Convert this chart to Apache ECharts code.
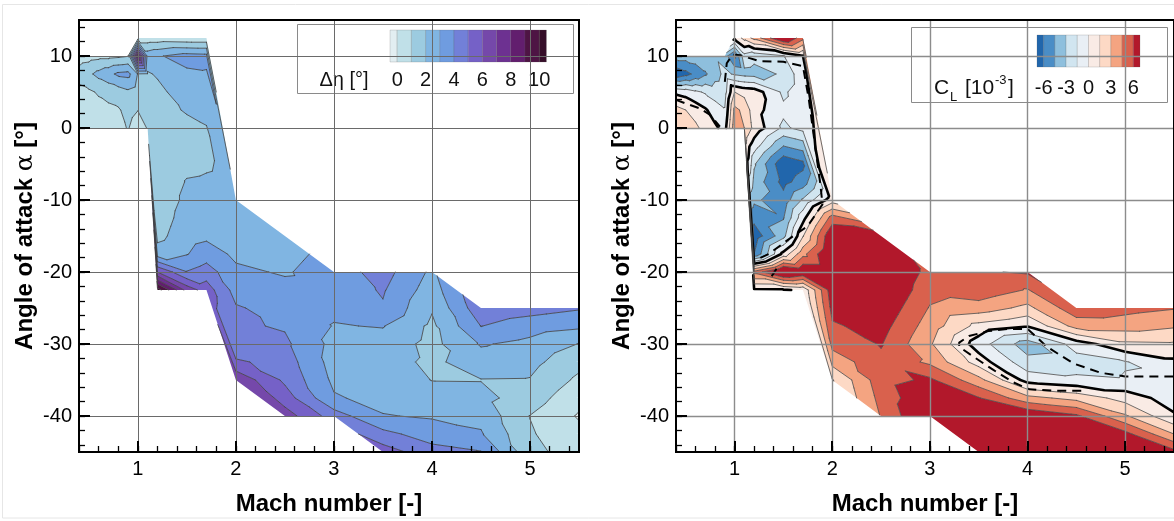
<!DOCTYPE html>
<html>
<head>
<meta charset="utf-8">
<script src="https://cdn.jsdelivr.net/npm/echarts@6/dist/echarts.min.js"></script>
<style>
  html, body { margin: 0; padding: 0; background: #fff; }
  #chart { width: 1174px; height: 521px; }
</style>
</head>
<body>
<div id="chart"></div>
<script>
// ---- Test matrix: one column of angles of attack per Mach number (2.5° steps from alphaLow) ----
const machCols  = [0.4, 0.5, 0.6, 0.7, 0.8, 0.9, 1.0, 1.1, 1.2, 1.5, 1.7, 2.0, 2.5, 3.0, 3.5, 4.0, 4.5, 5.0, 5.5];
const alphaLow  = [0, 0, 0, 0, 0, 0, 0, 0, -22.5, -22.5, -22.5, -35, -40, -40, -45, -50, -50, -50, -50];
const alphaStep = 2.5;

// Δη [°] per Mach column, from lowest to highest angle of attack
const etaCols = [
  [0.3, 0.4, 0.7, 1.4, 0.5],
  [0.4, 0.5, 0.85, 1.8, 0.6],
  [0.5, 0.7, 1.1, 2.3, 0.7],
  [0.6, 0.8, 1.3, 2.7, 0.7],
  [0.75, 0.9, 1.5, 3.2, 0.8],
  [1.05, 1.3, 1.8, 3.3, 0.95],
  [0.6, 1.02, 1.5, 1.95, 8.6, 0.4],
  [1.05, 1.4, 1.6, 1.9, 2.6, 0.4],
  [10.5, 6.0, 2.5, 1.7, 1.5, 1.4, 1.4, 1.4, 1.4, 1.5, 1.6, 1.75, 2.1, 2.9, 0.4],
  [6.6, 4.05, 2.95, 2.6, 2.4, 2.2, 2.05, 1.8, 1.6, 1.7, 2.1, 2.5, 2.8, 3.4, 0.3],
  [5.5, 4.5, 3.5, 2.8, 2.5, 2.3, 2.1, 1.9, 1.85, 1.95, 2.3, 2.6, 2.9, 3.3, 0.3],
  [6.8, 5.2, 4.05, 4.15, 4.1, 3.6, 3.2, 2.8, 2.6, 2.5, 2.4],
  [6.5, 5.5, 4.8, 4.5, 4.2, 3.9, 3.6, 3.3, 2.9, 2.7, 2.5],
  [4.5, 3.1, 2.8, 2.6, 2.7, 2.95, 3.2, 3.4, 3.5],
  [5.5, 4.3, 3.05, 2.7, 2.5, 2.4, 2.6, 3.05, 3.9, 4.1, 4.4],
  [6.0, 5.2, 4.4, 3.5, 2.9, 2.4, 1.98, 1.8, 1.7, 1.8, 2.1, 2.5, 2.8],
  [6.0, 5.1, 4.05, 3.1, 2.7, 2.3, 1.97, 2.5, 3.1, 4.02, 4.7],
  [2.1, 1.6, 1.3, 1.1, 0.98, 1.5, 1.95, 2.3, 2.7, 3.5, 4.4],
  [1.1, 0.8, 0.5, 0.3, -0.1, 0.3, 0.8, 1.3, 1.97, 3.2, 4.1]
];

// C_L [10^-3] per Mach column, same layout
const clCols = [
  [2.5, 2.0, -0.3, -7.2, -3.8],
  [2.2, 1.5, -0.6, -6.5, -3.8],
  [1.8, 0.9, -1.2, -5.6, -3.6],
  [1.0, 0.2, -1.7, -4.7, -3.4],
  [0.3, -0.8, -2.2, -3.6, -3.2],
  [-0.6, -1.4, -2.1, -2.6, -3.8],
  [4.0, 3.4, 1.5, -3.2, -6.3, 0.4],
  [3.0, 2.6, 1.0, -3.5, -2.0, 2.0],
  [-0.3, 5.0, -6.0, -7.0, -5.5, -4.2, -3.5, -2.8, -0.8, 1.0, 0.6, 0.8, -3.6, -2.5, 3.5],
  [-0.2, 8.5, 0.5, -3.5, -4.6, -5.4, -6.5, -7.2, -4.5, -1.8, -1.2, -1.8, -2.8, -1.6, 8.0],
  [0.3, 7.5, 4.0, 1.4, -0.5, -2.8, -5.3, -6.4, -3.8, -1.0, -0.6, -0.5, -0.4, -0.1, 5.0],
  [1.4, 3.5, 5.0, 5.8, 6.5, 7.0, 7.5, 8.0, 7.5, 5.2, 0.8],
  [4.6, 5.0, 5.4, 5.7, 6.1, 6.6, 7.2, 7.8, 8.0, 8.0, 7.0],
  [8.0, 7.5, 6.3, 4.2, 3.2, 3.8, 4.4, 5.0, 5.5],
  [8.0, 8.0, 7.5, 6.1, 3.5, 0.8, -0.8, 1.0, 3.8, 5.5, 5.8],
  [8.0, 8.0, 8.0, 8.0, 7.5, 3.5, -0.6, -2.5, -3.8, 0.1, 2.6, 4.4, 6.2],
  [8.0, 8.0, 8.0, 8.0, 6.3, 2.5, -1.2, -2.2, -0.8, 3.6, 5.5],
  [8.0, 8.0, 8.0, 6.5, 3.2, 0.9, -1.4, -1.6, 1.2, 3.7, 5.0],
  [8.0, 7.5, 6.5, 3.0, 0.2, -0.8, -1.3, -0.3, 1.3, 3.2, 4.6]
];

// Dashed reference contour in the C_L map (Mach, alpha)
const clDashed = [
  [[0.40, 3.9], [0.50, 3.4], [0.65, 2.7], [0.75, 1.8], [0.85, 0.2]],
  [[0.90, 6.4], [0.92, 9.0], [0.98, 10.2], [1.06, 10.1], [1.25, 9.3], [1.50, 9.2], [1.70, 8.6],
   [1.76, 4.0], [1.82, -2.0], [1.88, -8.0], [1.90, -10.6], [1.75, -13.6], [1.55, -15.5],
   [1.35, -17.5], [1.22, -18.3]],
  [[1.38, -20.6], [1.46, -18.9]],
  [[4.55, -36.5], [4.30, -36.5], [4.02, -36.3], [3.85, -35.3], [3.65, -33.6], [3.45, -31.8],
   [3.30, -30.4], [3.30, -29.8], [3.40, -28.9], [3.60, -28.2], [3.80, -27.9], [4.00, -27.9],
   [4.20, -30.4], [4.47, -32.7], [4.75, -34.0], [5.00, -34.5], [5.50, -34.5]]
];

// Contour levels and band colours
const etaLevels = [0, 1, 2, 3, 4, 5, 6, 7, 8, 9, 10];
const etaColors = ['#e2eef1', '#c0e0e8', '#9ccbe0', '#80b5e2', '#6f9ce0', '#7280d8',
                   '#7561c7', '#7548aa', '#6d3191', '#621e6e', '#4e1444', '#360e29'];
const etaLabels = [0, 2, 4, 6, 8, 10];
const clLevels  = [-6, -4.5, -3, -1.5, 0, 1.5, 3, 4.5, 6];
const clColors  = ['#2166ac', '#4a8dc6', '#8ebfdd', '#d1e5f0', '#e9eff5',
                   '#f9ebe5', '#fdd9c5', '#f4a481', '#d9614d', '#b2182b'];
const clLabels  = [-6, -3, 0, 3, 6];

// Axis ticks
const xMajorTicks = [1, 2, 3, 4, 5];
const yMajorTicks = [-40, -30, -20, -10, 0, 10];
const xMinorTicks = [];
for (let k = 2; k <= 27; k++) xMinorTicks.push(+(k * 0.2).toFixed(1));
const yMinorTicks = [];
for (let v = -44; v <= 14; v += 2) yMinorTicks.push(v);

const FONT = '"Liberation Sans", Arial, sans-serif';

// ---- Triangulate neighbouring Mach columns (zipper by angle of attack) ----
function buildTriangles(cols) {
  const colPts = cols.map((vals, ci) => vals.map((v, k) => ({ m: machCols[ci], a: alphaLow[ci] + k * alphaStep, v })));
  const tris = [];
  for (let c = 0; c < colPts.length - 1; c++) {
    const A = colPts[c], B = colPts[c + 1];
    let i = 0, j = 0;
    while (i < A.length - 1 || j < B.length - 1) {
      if (i < A.length - 1 && (j >= B.length - 1 || A[i + 1].a <= B[j + 1].a)) {
        tris.push([A[i], A[i + 1], B[j]]); i++;
      } else {
        tris.push([A[i], B[j], B[j + 1]]); j++;
      }
    }
  }
  return tris;
}

function clipPoly(poly, L, keepAbove) {
  const out = [];
  const n = poly.length;
  for (let k = 0; k < n; k++) {
    const a = poly[k], b = poly[(k + 1) % n];
    const ia = keepAbove ? a.v >= L : a.v < L;
    const ib = keepAbove ? b.v >= L : b.v < L;
    if (ia) out.push(a);
    if (ia !== ib) {
      const t = (L - a.v) / (b.v - a.v);
      out.push({ x: a.x + t * (b.x - a.x), y: a.y + t * (b.y - a.y), v: L });
    }
  }
  return out;
}
const fx = (n) => n.toFixed(2);

function contourRenderer(tris, levels, colors, lineFor) {
  return function (params, api) {
    const P = tris.map(t => t.map(p => { const c = api.coord([p.m, p.a]); return { x: c[0], y: c[1], v: p.v }; }));
    const nb = colors.length;
    const fills = new Array(nb).fill('');
    const lines = new Array(levels.length).fill('');
    for (const tri of P) {
      const vmin = Math.min(tri[0].v, tri[1].v, tri[2].v);
      const vmax = Math.max(tri[0].v, tri[1].v, tri[2].v);
      for (let b = 0; b < nb; b++) {
        const lo = b === 0 ? -Infinity : levels[b - 1];
        const hi = b === nb - 1 ? Infinity : levels[b];
        if (vmax < lo || vmin >= hi) continue;
        let poly = tri;
        if (lo > -Infinity) poly = clipPoly(poly, lo, true);
        if (hi < Infinity && poly.length) poly = clipPoly(poly, hi, false);
        if (poly.length >= 3) {
          fills[b] += 'M' + poly.map(p => fx(p.x) + ' ' + fx(p.y)).join('L') + 'Z';
        }
      }
      levels.forEach((L, li) => {
        const pts = [];
        for (let e = 0; e < 3; e++) {
          const a = tri[e], c = tri[(e + 1) % 3];
          if ((a.v >= L) !== (c.v >= L)) {
            const t = (L - a.v) / (c.v - a.v);
            pts.push([a.x + t * (c.x - a.x), a.y + t * (c.y - a.y)]);
          }
        }
        if (pts.length === 2) {
          lines[li] += 'M' + fx(pts[0][0]) + ' ' + fx(pts[0][1]) + 'L' + fx(pts[1][0]) + ' ' + fx(pts[1][1]);
        }
      });
    }
    const children = [];
    fills.forEach((d, b) => {
      if (d) children.push({ type: 'path', shape: { pathData: d }, style: { fill: colors[b], stroke: 'none' } });
    });
    lines.forEach((d, li) => {
      if (d) {
        const s = lineFor(levels[li]);
        children.push({ type: 'path', shape: { pathData: d }, style: { fill: 'none', stroke: s.color, lineWidth: s.width, lineJoin: 'round', lineCap: 'round' } });
      }
    });
    return { type: 'group', children };
  };
}

// ---- Axes ----
function xAxes(gi, splitColor, splitWidth) {
  return [
    {
      gridIndex: gi, type: 'value', min: 0.4, max: 5.5, position: 'bottom', z: 6,
      axisLine: { show: false, onZero: false },
      axisTick: { show: true, inside: true, length: 11, customValues: xMajorTicks, lineStyle: { color: '#000', width: 2 } },
      axisLabel: { customValues: xMajorTicks, fontSize: 20, fontFamily: FONT, color: '#000', margin: 7 },
      splitLine: { show: true, lineStyle: { color: splitColor, width: splitWidth } },
      name: 'Mach number [-]', nameLocation: 'middle', nameGap: 40,
      nameTextStyle: { fontSize: 24, fontWeight: 'bold', fontFamily: FONT, color: '#000' }
    },
    {
      gridIndex: gi, type: 'value', min: 0.4, max: 5.5, position: 'bottom', z: 6,
      axisLine: { show: false, onZero: false },
      axisTick: { show: true, inside: true, length: 6, customValues: xMinorTicks, lineStyle: { color: '#000', width: 1.3 } },
      axisLabel: { show: false }, splitLine: { show: false }
    }
  ];
}
function yAxes(gi, splitColor, splitWidth) {
  return [
    {
      gridIndex: gi, type: 'value', min: -45, max: 15, position: 'left', z: 6,
      axisLine: { show: false, onZero: false },
      axisTick: { show: true, inside: true, length: 11, customValues: yMajorTicks, lineStyle: { color: '#000', width: 2 } },
      axisLabel: { customValues: yMajorTicks, fontSize: 20, fontFamily: FONT, color: '#000', margin: 7 },
      splitLine: { show: true, lineStyle: { color: splitColor, width: splitWidth } },
      name: 'Angle of attack {a|α} [°]', nameLocation: 'middle', nameGap: 41,
      nameTextStyle: {
        fontSize: 24, fontWeight: 'bold', fontFamily: FONT, color: '#000',
        rich: { a: { fontSize: 25, fontWeight: 'normal', fontFamily: '"DejaVu Serif", serif', color: '#000' } }
      }
    },
    {
      gridIndex: gi, type: 'value', min: -45, max: 15, position: 'left', z: 6,
      axisLine: { show: false, onZero: false },
      axisTick: { show: true, inside: true, length: 6, customValues: yMinorTicks, lineStyle: { color: '#000', width: 1.3 } },
      axisLabel: { show: false }, splitLine: { show: false }
    }
  ];
}

// ---- Colour-bar legends ----
function colorBar(x0, top, h, half, unit, levels, colors, labels, labelY) {
  const els = [];
  const lv0 = levels[0];
  const step = levels[1] - levels[0];
  const posOf = (v) => x0 + half + (v - lv0) / step * unit;
  for (let b = 0; b < colors.length; b++) {
    const xa = b === 0 ? x0 : posOf(levels[b - 1]);
    const xb = b === colors.length - 1 ? posOf(levels[levels.length - 1]) + half : posOf(levels[b]);
    els.push({ type: 'rect', shape: { x: xa, y: top, width: xb - xa, height: h },
      style: { fill: colors[b], stroke: 'rgba(90,90,90,0.35)', lineWidth: 0.6 } });
  }
  labels.forEach(v => {
    els.push({ type: 'text', x: posOf(v), y: labelY,
      style: { text: String(v), fontSize: 20, fontFamily: FONT, fill: '#111', align: 'center', verticalAlign: 'middle' } });
  });
  return els;
}

const etaTris = buildTriangles(etaCols);
const clTris = buildTriangles(clCols);

const legendLeft = [
  { type: 'rect', shape: { x: 297.5, y: 24.5, width: 276, height: 69 }, style: { fill: '#fff', stroke: '#8a8a8a', lineWidth: 1 } },
  ...colorBar(390, 30, 32, 7.2, 14.2, etaLevels, etaColors, etaLabels, 80),
  { type: 'text', x: 344, y: 80, style: { text: 'Δη [°]', fontSize: 20, fontFamily: FONT, fill: '#111', align: 'center', verticalAlign: 'middle' } }
];
const legendRight = [
  { type: 'rect', shape: { x: 911.5, y: 27.5, width: 256, height: 75 }, style: { fill: '#fff', stroke: '#8a8a8a', lineWidth: 1 } },
  ...colorBar(1037, 35, 32, 6.7, 11.2, clLevels, clColors, clLabels, 88),
  { type: 'text', x: 934, y: 88, style: { text: 'C', fontSize: 21, fontFamily: FONT, fill: '#111', align: 'left', verticalAlign: 'middle' } },
  { type: 'text', x: 950, y: 97, style: { text: 'L', fontSize: 13, fontFamily: FONT, fill: '#111', align: 'left', verticalAlign: 'middle' } },
  { type: 'text', x: 965, y: 88, style: { text: '[10', fontSize: 21, fontFamily: FONT, fill: '#111', align: 'left', verticalAlign: 'middle' } },
  { type: 'text', x: 995, y: 80, style: { text: '-3', fontSize: 13, fontFamily: FONT, fill: '#111', align: 'left', verticalAlign: 'middle' } },
  { type: 'text', x: 1008, y: 88, style: { text: ']', fontSize: 21, fontFamily: FONT, fill: '#111', align: 'left', verticalAlign: 'middle' } }
];

const dashedSeries = clDashed.map(seg => ({
  type: 'line', xAxisIndex: 2, yAxisIndex: 2, data: seg, symbol: 'none', clip: true, silent: true, z: 4,
  lineStyle: { color: '#000', width: 2, type: [9, 6] }
}));

const option = {
  animation: false,
  backgroundColor: '#ffffff',
  grid: [
    { left: 79, top: 20, width: 500, height: 445, show: true, borderColor: '#000', borderWidth: 2, backgroundColor: 'rgba(0,0,0,0)', z: 10 },
    { left: 676, top: 20, width: 500, height: 445, show: true, borderColor: '#000', borderWidth: 2, backgroundColor: 'rgba(0,0,0,0)', z: 10 }
  ],
  xAxis: [...xAxes(0, '#6a6a6a', 1), ...xAxes(1, '#8c8c8c', 1.4)],
  yAxis: [...yAxes(0, '#6a6a6a', 1), ...yAxes(1, '#8c8c8c', 1.4)],
  series: [
    {
      type: 'custom', xAxisIndex: 0, yAxisIndex: 0, clip: true, silent: true, z: 1,
      data: [[1, 0]],
      renderItem: contourRenderer(etaTris, etaLevels, etaColors, () => ({ color: '#3c3c3c', width: 0.8 }))
    },
    {
      type: 'custom', xAxisIndex: 2, yAxisIndex: 2, clip: true, silent: true, z: 1,
      data: [[1, 0]],
      renderItem: contourRenderer(clTris, clLevels, clColors, (L) => L === 0 ? { color: '#000', width: 2.6 } : { color: '#4a4a4a', width: 0.8 })
    },
    ...dashedSeries
  ],
  graphic: [
    { type: 'rect', z: 0, silent: true, shape: { x: 2.5, y: 4.5, width: 1180, height: 513.5 }, style: { fill: 'none', stroke: '#e6e6e6', lineWidth: 1 } },
    { type: 'group', z: 100, children: legendLeft },
    { type: 'group', z: 100, children: legendRight }
  ]
};

const chart = echarts.init(document.getElementById('chart'), null, { renderer: 'canvas' });
chart.setOption(option);
</script>
</body>
</html>
